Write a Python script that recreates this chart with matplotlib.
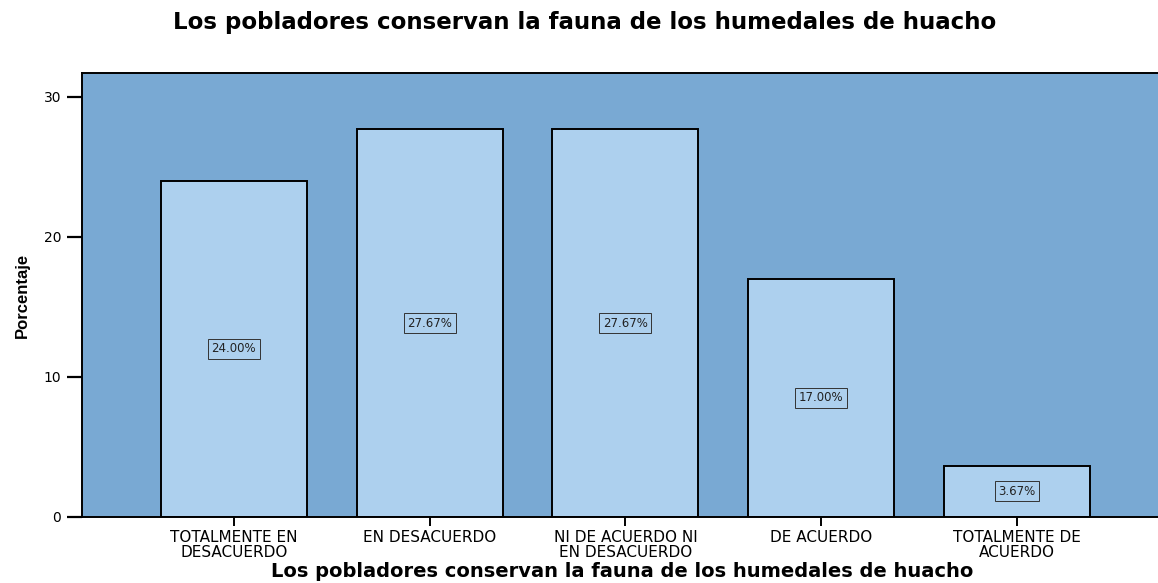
import matplotlib
matplotlib.use("Agg")
import matplotlib.pyplot as plt

categories = ["TOTALMENTE EN\nDESACUERDO", "EN DESACUERDO", "NI DE ACUERDO NI\nEN DESACUERDO",
              "DE ACUERDO", "TOTALMENTE DE\nACUERDO"]
values = [24.00, 27.67, 27.67, 17.00, 3.67]
labels = ["24.00%", "27.67%", "27.67%", "17.00%", "3.67%"]
yticks = [0, 10, 20, 30]
title = "Los pobladores conservan la fauna de los humedales de huacho"

W, H = 1158, 583
fig = plt.figure(figsize=(W / 100, H / 100), dpi=100)
ax_w = (W - 82) / W + 0.01
ax = fig.add_axes([82 / W, 1 - 517 / H, ax_w, (517 - 73) / H])
ax.set_facecolor("#79A9D3")

x = list(range(len(values)))
ax.bar(x, values, width=0.745, color="#ADD0EE", edgecolor="black", linewidth=1.4, zorder=2)
for xi, v, lab in zip(x, values, labels):
    ax.text(xi, v / 2, lab, ha="center", va="center", fontsize=8.5, family="DejaVu Sans",
            color="#222222", zorder=3,
            bbox=dict(boxstyle="square,pad=0.3", facecolor="none", edgecolor="#333333", linewidth=0.7))

ax.set_xlim(-0.776, 4.78)
ax.set_ylim(0, 31.7)
ax.set_xticks(x)
ax.set_xticklabels(categories, fontsize=11, family="DejaVu Sans", linespacing=0.95)
ax.set_yticks(yticks)
ax.set_yticklabels([str(t) for t in yticks], fontsize=10, family="DejaVu Sans")
ax.tick_params(axis="y", length=11, width=1.6, pad=4)
ax.tick_params(axis="x", length=6.5, width=1.4, pad=3)
for s in ["left", "top", "bottom", "right"]:
    ax.spines[s].set_linewidth(1.4)

ax.set_ylabel("Porcentaje", fontsize=12, fontweight="bold", family="Liberation Sans")
ax.yaxis.set_label_coords((30 - 82) / (ax_w * W), 0.5)
ax.set_xlabel(title, fontsize=14, fontweight="bold", family="DejaVu Sans")
ax.xaxis.set_label_coords((622 - 82) / (ax_w * W), (517 - 562) / 444)
fig.text(585 / W, 1 - 22 / H, title, ha="center", va="center", fontsize=16.5, fontweight="bold",
         family="DejaVu Sans")

fig.savefig("out.png", dpi=100)
